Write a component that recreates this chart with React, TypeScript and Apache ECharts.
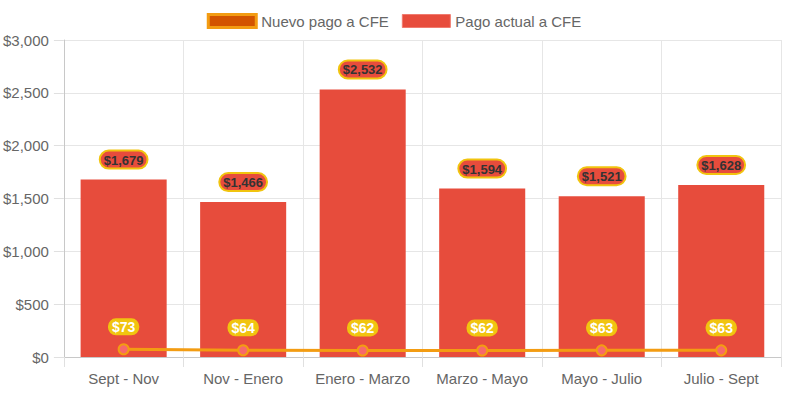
import React, { useEffect, useRef } from "react";
import * as echarts from "echarts";

const categories = ["Sept - Nov", "Nov - Enero", "Enero - Marzo", "Marzo - Mayo", "Mayo - Julio", "Julio - Sept"];
const nuevoPago = [73, 64, 62, 62, 63, 63];
const pagoActual = [1679, 1466, 2532, 1594, 1521, 1628];
const yTicks = { min: 0, max: 3000, interval: 500 };

const fmt = (v: number) => "$" + Math.round(v).toLocaleString("en-US");

export default function App() {
  const ref = useRef<HTMLDivElement>(null);
  useEffect(() => {
    const chart = echarts.init(ref.current!, null, { renderer: "svg" });
    chart.setOption({
      animation: false,
      textStyle: { fontFamily: "Arial, 'Liberation Sans', sans-serif" },
      legend: {
        top: 8,
        left: "center",
        itemWidth: 48,
        itemHeight: 13,
        itemGap: 13,
        textStyle: { color: "#666", fontSize: 15 },
        data: [
          { name: "Nuevo pago a CFE", icon: "rect", itemStyle: { color: "#d35400", borderColor: "#f39c12", borderWidth: 3 } },
          { name: "Pago actual a CFE", icon: "rect", itemStyle: { color: "#e74c3c", borderColor: "#f07a6e", borderWidth: 1 } },
        ],
      },
      grid: { left: 63, right: 7, top: 40, bottom: 36 },
      xAxis: {
        type: "category",
        data: categories,
        boundaryGap: true,
        axisLine: { show: true, lineStyle: { color: "#c8c8c8", width: 1 } },
        axisTick: { show: true, length: 10, interval: 0, lineStyle: { color: "#e0e0e0" } },
        splitLine: { show: true, interval: 0, lineStyle: { color: "#e6e6e6" } },
        axisLabel: { color: "#666", fontSize: 15, margin: 14, interval: 0 },
      },
      yAxis: {
        type: "value",
        ...yTicks,
        axisLine: { show: true, lineStyle: { color: "#c8c8c8" } },
        axisTick: { show: true, length: 10, lineStyle: { color: "#e0e0e0" } },
        splitLine: { show: true, lineStyle: { color: "#e6e6e6" } },
        axisLabel: { color: "#666", fontSize: 15, margin: 15, formatter: (v: number) => fmt(v) },
      },
      series: [
        {
          name: "Pago actual a CFE",
          type: "bar",
          data: pagoActual,
          barWidth: "72%",
          itemStyle: { color: "#e74c3c" },
          label: {
            show: true,
            position: "top",
            distance: 12,
            formatter: (p: any) => fmt(p.value),
            color: "#333",
            fontWeight: "bold",
            fontSize: 13,
            backgroundColor: "#e74c3c",
            borderColor: "#f1c40f",
            borderWidth: 2,
            borderRadius: 10,
            padding: [2, 3, 1, 3],
          },
        },
        {
          name: "Nuevo pago a CFE",
          type: "line",
          data: nuevoPago,
          z: 5,
          symbol: "circle",
          symbolSize: 10,
          lineStyle: { color: "#f39c12", width: 3 },
          itemStyle: { color: "#f7696b", borderColor: "#f39c12", borderWidth: 2 },
          label: {
            show: true,
            position: "top",
            distance: 8,
            formatter: (p: any) => fmt(p.value),
            color: "#fff",
            fontWeight: "bold",
            fontSize: 14,
            backgroundColor: "#f1c40f",
            borderRadius: 8,
            padding: [2, 4, 1, 4],
          },
        },
      ],
    });
    return () => chart.dispose();
  }, []);
  return <div ref={ref} style={{ width: 788, height: 393, position: "absolute", left: 0, top: 0 }} />;
}
